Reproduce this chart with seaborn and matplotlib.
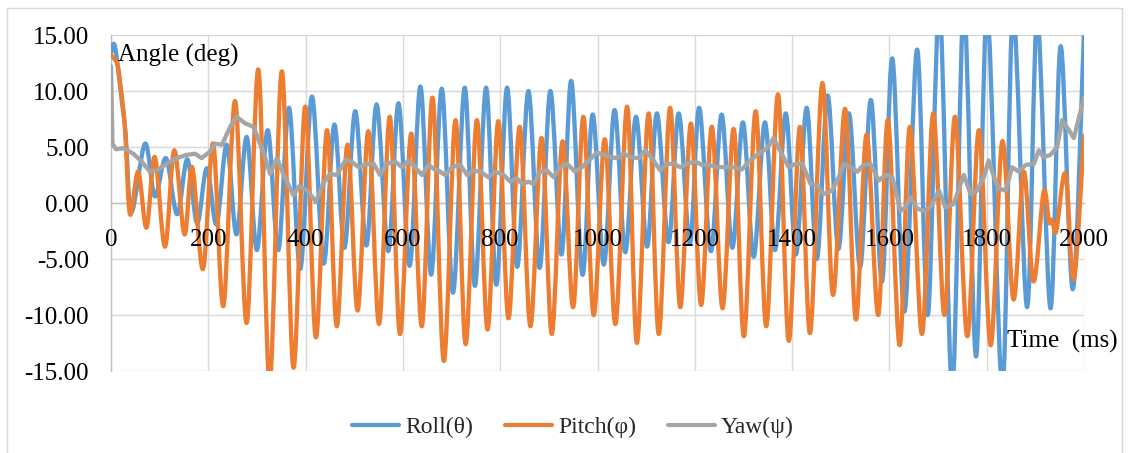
import numpy as np
import pandas as pd
import matplotlib
matplotlib.use("Agg")
import matplotlib.pyplot as plt
from matplotlib.path import Path
from matplotlib.patches import PathPatch
from matplotlib.lines import Line2D
import seaborn as sns

# Roll angle: turning points (time in ms, angle in deg)
roll_t = [0, 8, 22, 30, 42, 70, 90, 113, 136, 157, 177, 197, 217, 238, 258, 279, 300,
          322, 344, 366, 389, 413, 437, 459, 480, 502, 525, 546, 570, 591, 614, 636,
          658, 680, 703, 727, 748, 771, 792, 814, 835, 858, 881, 903, 926, 946, 969,
          990, 1013, 1035, 1057, 1079, 1102, 1122, 1146, 1167, 1190, 1209, 1233, 1255,
          1277, 1299, 1321, 1344, 1365, 1387, 1408, 1430, 1451, 1473, 1495, 1517,
          1540, 1562, 1585, 1606, 1631, 1657, 1679, 1703, 1729, 1753, 1778, 1801,
          1832, 1854, 1883, 1904, 1931, 1952, 1977, 2000]
roll_v = [13.4, 14.0, 9.2, 6.2, -0.8, 5.3, 0.6, 4.0, -1.0, 3.9, -1.8, 3.1, -1.9, 5.2,
          -2.8, 5.9, -4.2, 6.5, -4.2, 8.5, -5.9, 9.5, -5.4, 7.0, -4.0, 8.2, -3.8, 8.8,
          -4.3, 8.9, -5.6, 10.4, -6.4, 10.2, -8.0, 10.3, -7.4, 10.3, -7.3, 10.3, -5.7,
          10.0, -5.8, 10.0, -4.6, 10.9, -6.4, 7.9, -5.5, 8.3, -4.4, 7.7, -3.9, 8.0,
          -3.5, 8.0, -3.6, 8.5, -4.3, 7.9, -4.0, 7.2, -4.8, 7.2, -4.2, 8.0, -4.6, 8.5,
          -5.0, 9.6, -4.1, 8.0, -5.7, 9.2, -7.0, 12.9, -9.7, 13.7, -10.0, 17.5, -16.5,
          17.5, -13.7, 17.0, -16.5, 17.0, -9.3, 16.5, -9.4, 14.0, -7.7, 15.5]

# Pitch angle: turning points
pitch_t = [0, 12, 18, 29, 39, 56, 73, 90, 111, 130, 151, 167, 189, 210, 231, 255, 279,
           303, 326, 351, 375, 399, 421, 444, 464, 486, 507, 529, 551, 573, 594, 617,
           639, 661, 684, 708, 729, 752, 774, 796, 817, 840, 862, 885, 906, 928, 950,
           971, 992, 1015, 1037, 1061, 1081, 1105, 1126, 1149, 1170, 1192, 1213, 1235,
           1257, 1280, 1301, 1325, 1347, 1371, 1393, 1416, 1437, 1462, 1484, 1509,
           1531, 1553, 1577, 1597, 1621, 1642, 1667, 1690, 1713, 1735, 1760, 1784,
           1808, 1832, 1855, 1876, 1896, 1917, 1928, 1935, 1943, 1962, 1979, 2000]
pitch_v = [13.2, 12.5, 11.0, 6.5, -1.0, 2.8, -2.2, 4.1, -3.9, 4.7, -2.8, 3.2, -5.9, 5.3,
           -9.2, 9.1, -10.7, 11.9, -16.0, 11.75, -14.7, 8.6, -12.0, 6.5, -11.0, 5.2,
           -9.6, 6.4, -10.8, 7.7, -11.7, 6.2, -11.0, 9.4, -14.1, 7.4, -12.6, 7.4, -11.3,
           7.3, -10.3, 6.8, -11.0, 5.8, -11.7, 5.5, -9.3, 7.7, -10.0, 5.7, -10.8, 8.6,
           -12.5, 8.0, -11.7, 8.5, -9.3, 7.1, -9.1, 6.8, -9.4, 6.6, -11.9, 8.2, -11.0,
           9.7, -12.3, 6.8, -11.6, 10.7, -8.2, 8.4, -10.4, 6.1, -10.0, 7.4, -12.7,
           6.8, -11.7, 8.0, -10.0, 7.7, -11.9, 6.5, -12.7, 5.5, -8.6, 2.8, -7.0, 1.0,
           -1.7, -1.5, -2.5, 2.6, -6.8, 6.0]

# Yaw angle samples
yaw_t = [0, 3, 10, 25, 46, 63, 80, 94, 114, 135, 156, 173, 186, 204, 214, 228, 245,
         258, 276, 293, 315, 327, 341, 354, 375, 387, 404, 421, 437, 450, 464, 483,
         497, 509, 526, 540, 553, 567, 584, 598, 612, 625, 639, 653, 665, 673, 687,
         701, 718, 732, 745, 759, 776, 790, 807, 821, 834, 845, 858, 869, 882, 896,
         910, 923, 937, 954, 968, 982, 999, 1013, 1026, 1040, 1054, 1068, 1085, 1098,
         1112, 1129, 1143, 1157, 1170, 1184, 1201, 1215, 1229, 1246, 1263, 1280, 1297,
         1311, 1331, 1349, 1362, 1376, 1393, 1407, 1421, 1438, 1451, 1465, 1482, 1496,
         1506, 1520, 1534, 1547, 1561, 1578, 1592, 1606, 1623, 1633, 1643, 1657, 1671,
         1684, 1702, 1715, 1732, 1753, 1767, 1780, 1794, 1804, 1815, 1825, 1839, 1852,
         1866, 1880, 1897, 1907, 1917, 1931, 1945, 1955, 1969, 1979, 1990, 2000]
yaw_v = [12.2, 5.3, 4.8, 4.9, 4.4, 3.7, 2.8, 2.9, 3.5, 4.0, 4.3, 4.4, 4.0, 4.6, 5.3,
         5.2, 6.8, 7.7, 7.1, 6.8, 4.3, 2.6, 4.0, 2.6, 0.7, 1.5, 1.1, 0.1, 1.8, 2.6, 2.5,
         3.9, 3.6, 3.2, 3.5, 3.5, 2.5, 3.5, 3.7, 3.2, 3.8, 3.2, 2.5, 3.4, 3.0, 2.9, 2.5,
         3.2, 3.4, 2.5, 2.9, 2.8, 2.3, 2.8, 2.5, 1.9, 2.2, 1.7, 1.9, 1.7, 2.8, 2.9, 2.3,
         3.2, 3.5, 2.8, 3.2, 3.8, 4.5, 4.3, 4.1, 4.0, 4.4, 4.1, 4.0, 4.7, 4.0, 2.9, 3.5,
         3.5, 3.2, 3.5, 3.7, 3.4, 3.4, 3.2, 3.2, 3.2, 3.0, 3.7, 4.4, 4.9, 5.8, 4.6, 3.2,
         3.5, 3.5, 1.7, 1.6, 0.8, 1.1, 2.3, 3.5, 3.2, 2.8, 3.4, 3.5, 2.0, 2.5, 2.3, -0.7,
         -0.4, 0.5, -0.5, -0.7, -0.4, 1.1, -0.4, -0.1, 2.5, 0.8, 1.1, 2.3, 3.8, 2.3, 1.3,
         1.1, 3.2, 2.8, 3.4, 3.5, 4.7, 4.1, 4.3, 5.0, 7.4, 6.5, 5.8, 7.7, 9.4]

series_names = ["Roll(θ)", "Pitch(φ)", "Yaw(ψ)"]
series_colors = ["#5B9BD5", "#ED7D31", "#A5A5A5"]
x_ticks = [0, 200, 400, 600, 800, 1000, 1200, 1400, 1600, 1800, 2000]
y_ticks = [-15, -10, -5, 0, 5, 10, 15]


def smooth_path(t, v, tension=1.0 / 6.0):
    """Cubic Bezier path through every point (smoothed-line rendering)."""
    pts = np.column_stack([t, v]).astype(float)
    n = len(pts)
    verts = [pts[0]]
    codes = [Path.MOVETO]
    for i in range(n - 1):
        p0 = pts[i - 1] if i > 0 else pts[i]
        p1 = pts[i]
        p2 = pts[i + 1]
        p3 = pts[i + 2] if i + 2 < n else pts[i + 1]
        verts += [p1 + (p2 - p0) * tension, p2 - (p3 - p1) * tension, p2]
        codes += [Path.CURVE4] * 3
    return Path(verts, codes)


sns.set_theme(style="white")
plt.rcParams["font.family"] = ["Liberation Serif", "DejaVu Serif"]
plt.rcParams["axes.unicode_minus"] = False

fig = plt.figure(figsize=(11.28, 4.53), dpi=100)
ax = fig.add_axes([111 / 1128, 1 - 371 / 453, 973 / 1128, 336 / 453])

line_w = 3.1
for t, v, c, z in [(roll_t, roll_v, series_colors[0], 3),
                   (pitch_t, pitch_v, series_colors[1], 4)]:
    ax.add_patch(PathPatch(smooth_path(t, v), fill=False, edgecolor=c, lw=line_w,
                           capstyle="round", joinstyle="round", zorder=z))

yaw_df = pd.DataFrame({"Time": yaw_t, "Angle": yaw_v})
sns.lineplot(data=yaw_df, x="Time", y="Angle", ax=ax, color=series_colors[2],
             lw=line_w, legend=False, zorder=5, solid_joinstyle="round",
             solid_capstyle="round")

ax.set_xlim(0, 2000)
ax.set_ylim(-15, 15)
ax.set_xticks(x_ticks)
ax.set_xticklabels([])
ax.set_yticks(y_ticks)
ax.set_yticklabels([f"{y:.2f}" for y in y_ticks])
ax.set_xlabel("")
ax.set_ylabel("")
ax.grid(True, color="#D9D9D9", lw=1.0)
ax.set_axisbelow(True)

for side in ["top", "right"]:
    ax.spines[side].set_visible(False)
ax.spines["bottom"].set_position(("data", 0))
ax.spines["bottom"].set_color("#BFBFBF")
ax.spines["left"].set_color("#BFBFBF")
ax.spines["bottom"].set_linewidth(1.0)
ax.spines["left"].set_linewidth(1.0)

ax.tick_params(axis="x", length=0)
ax.tick_params(axis="y", length=0, pad=16, labelsize=18, colors="black")

# time-axis labels sit just under the zero line, above the curves
for x in x_ticks:
    ax.annotate(str(x), xy=(x, 0), xytext=(0, -18.5), textcoords="offset points",
                ha="center", va="top", fontsize=18, color="black", zorder=10,
                annotation_clip=False)

ax.text(0.007, 0.9405, "Angle (deg)", transform=ax.transAxes, fontsize=18,
        ha="left", va="center", color="black", zorder=10)
ax.text(0.921, 0.089, "Time  (ms)", transform=ax.transAxes, fontsize=18,
        ha="left", va="center", color="black", clip_on=False, zorder=10)

handles = [Line2D([0], [0], color=c, lw=3.0) for c in series_colors]
fig.legend(handles, series_names, loc="center", bbox_to_anchor=(0.508, 0.057),
           ncol=3, frameon=False, fontsize=17, handlelength=2.0,
           handletextpad=0.25, columnspacing=1.35)

# chart area outline
outline = dict(transform=fig.transFigure, color="#D9D9D9", lw=1.0)
fig.add_artist(Line2D([6.5 / 1128, 6.5 / 1128], [0, 1 - 8 / 453], **outline))
fig.add_artist(Line2D([6.5 / 1128, 1121.5 / 1128], [1 - 8 / 453, 1 - 8 / 453], **outline))
fig.add_artist(Line2D([1121.5 / 1128, 1121.5 / 1128], [0, 1 - 8 / 453], **outline))

fig.savefig("out.png", dpi=100, facecolor="white")
